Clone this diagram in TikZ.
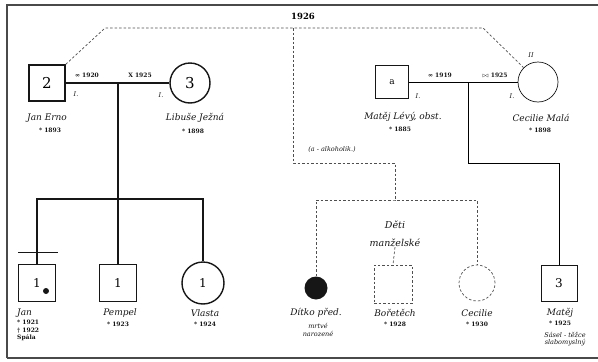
\documentclass[tikz,border=0pt]{standalone}
\usepackage{fontspec}
\setmainfont{DejaVu Serif}
\usetikzlibrary{positioning}

\begin{document}
\begin{tikzpicture}[
    x=1pt, y=-1pt,
    every node/.style={font=\itshape},
]

% ---------------------------------------------------------------- colours
\definecolor{ink}{HTML}{161616}
\definecolor{framecol}{HTML}{4A4A4A}
\definecolor{faint}{HTML}{4F4F4F}   % the uncertain links

\tikzset{
    man/.style={rectangle, draw=ink, minimum size=36pt, inner sep=0pt,
                line width=1.4pt, font=\upshape\fontsize{12}{12}\selectfont},
    woman/.style={circle, draw=ink, minimum size=40pt, inner sep=0pt,
                  line width=1.4pt, font=\upshape\fontsize{12}{12}\selectfont},
    thinline/.style={line width=0.7pt},
    unsure/.style={draw=faint, line width=0.7pt, dash pattern=on 2.5pt off 2pt},
    wed/.style={draw=ink, line width=1.6pt},
    who/.style={font=\itshape\fontsize{9}{10}\selectfont, inner sep=0pt, text=ink},
    note/.style={font=\itshape\fontsize{6.5}{7.5}\selectfont, inner sep=0pt,
                 text=ink, align=center},
    yr/.style={font=\bfseries\fontsize{6}{7.5}\selectfont, inner sep=0pt,
               text=ink, align=center},
    gennum/.style={font=\itshape\fontsize{6.5}{7}\selectfont, inner sep=0pt, text=ink},
}

\useasboundingbox (0,0) rectangle (598,362);

% ---------------------------------------------------------------- frame
\draw[framecol, line width=2pt] (7,358) -- (7,5) -- (600,5);
\draw[framecol, line width=1.5pt] (7,358) -- (600,358);

% ================================================================
% Parents row     y = 82
% Children row    y = 283
%   left family   sibling bar at y = 199
%   right family  bend at y = 163
% ================================================================

% ----------------------------------------------------------------------
% PARENTS
% ----------------------------------------------------------------------
\node[man, font=\upshape\fontsize{15}{15}\selectfont] (jan) at (47,83) {2};
\node[woman, font=\upshape\fontsize{15}{15}\selectfont] (libuse) at (190,83) {3};
\node[man, thinline, minimum size=33pt, font=\upshape\fontsize{9}{9}\selectfont]
    (levy) at (392,82) {a};
\node[woman, thinline] (cecilie) at (538,82) {};

\node[who] (janname) at (47,118) {Jan Erno};
\node[yr]  (janyr)   at (50,130) {* 1893};
\node[who] (libname) at (195,118) {Libuše Ježná};
\node[yr]  (libyr)   at (193,131) {* 1898};
\node[who] (levyname) at (403,117) {Matěj Lévý, obst.};
\node[yr]  (levyyr)   at (400,129) {* 1885};
\node[who] (cecname) at (541,118) {Cecilie Malá};
\node[yr]  (cecyr)   at (540,130) {* 1898};

\node[gennum] (g1) at (76,94) {I.};
\node[gennum] (g2) at (161,95) {I.};
\node[gennum] (g3) at (418,96) {I.};
\node[gennum] (g4) at (512,96) {I.};
\node[gennum] (g5) at (531,55) {II};

% marriage lines
\draw[wed] (jan) -- (libuse);
\node[yr] (wed1) at (87,75) {∞ 1920};
\node[yr] (div1) at (140,75) {X 1925};

\draw[thinline] (levy) -- (cecilie);
\node[yr] (wed2) at (440,75) {∞ 1919};
\node[yr] (div2) at (495,75) {$\bowtie$ 1925};

% the 1926 link
\node[font=\bfseries\fontsize{8.5}{9}\selectfont, inner sep=0pt] (year) at (303,16) {1926};
\coordinate (d1) at (105,28);
\coordinate (d2) at (483,28);
\draw[unsure] (jan.north east) -- (d1) -- (d2) -- (cecilie.north west);

% ----------------------------------------------------------------------
% CHILDREN OF 2 AND 3
% ----------------------------------------------------------------------
\node[man, minimum size=37pt] (jann) at (37,283) {1};
\node[circle, fill=ink, inner sep=0pt, minimum size=6pt] (jandot) at (46,291) {};
\node[man, minimum size=37pt] (pempel) at (118,283) {1};
\node[woman, minimum size=42pt] (vlasta) at (203,283) {1};

\coordinate (m1) at (118,83);
\coordinate (sib1) at (118,199);
\draw[wed] (m1) -- (sib1);
\draw[wed] (jann.north) |- (sib1) -| (vlasta.north);
\draw[wed] (sib1) -- (pempel.north);
\coordinate (bar) at ([yshift=11pt]jann.north);
\draw[ink, line width=0.8pt] (bar) ++(-19,0) -- ++(40,0);

\node[who, anchor=west] (jannname) at (17,313) {Jan};
\node[yr, anchor=north west, align=left] (jannyr) at (17,320) {* 1921\\† 1922\\Spála};
\node[who] (pempname) at (120,313) {Pempel};
\node[yr] (pempyr) at (118,324) {* 1923};
\node[who] (vlname) at (205,313) {Vlasta};
\node[yr] (vlyr) at (205,324) {* 1924};

% ----------------------------------------------------------------------
% CHILDREN OF a AND CECILIE
% ----------------------------------------------------------------------
\node[circle, fill=ink, inner sep=0pt, minimum size=23pt] (ditko) at (316,288) {};
\node[rectangle, unsure, minimum size=38pt] (boretech) at (393,284) {};
\node[circle, unsure, minimum size=36pt] (cecd) at (477,283) {};
\node[man, thinline, minimum size=36pt] (matej) at (559,283) {3};

\coordinate (a1) at (293,28);
\coordinate (a2) at (293,163);
\coordinate (kids) at (395,200);
\draw[unsure] (a1) -- (a2) -| (kids);
\node[note] (alko) at (332,150) {(a - alkoholik.)};

\draw[unsure] (ditko.north) |- (kids) -| (cecd.north);
\node[who, font=\itshape\fontsize{9.5}{10}\selectfont] (deti) at (395,225) {Děti};
\node[who, font=\itshape\fontsize{9.5}{10}\selectfont] (manz) at (395,243) {manželské};
\draw[unsure] (manz.south) -- (boretech.north);

\coordinate (m2) at (468,82);
\coordinate (m2b) at (468,163);
\draw[thinline] (m2) -- (m2b) -| (matej.north);

\node[who] (ditname) at (316,313) {Dítko před.};
\node[note] (ditnote) at (318,330) {mrtvé\\narozené};
\node[who] (borname) at (395,313) {Bořetěch};
\node[yr] (boryr) at (395,324) {* 1928};
\node[who] (cecdname) at (477,313) {Cecilie};
\node[yr] (cecdyr) at (477,324) {* 1930};
\node[who] (matname) at (560,313) {Matěj};
\node[yr] (matyr) at (560,323) {* 1925};
\node[note] (matnote) at (565,339) {Sásel - těžce\\slabomyslný};

\end{tikzpicture}
\end{document}
